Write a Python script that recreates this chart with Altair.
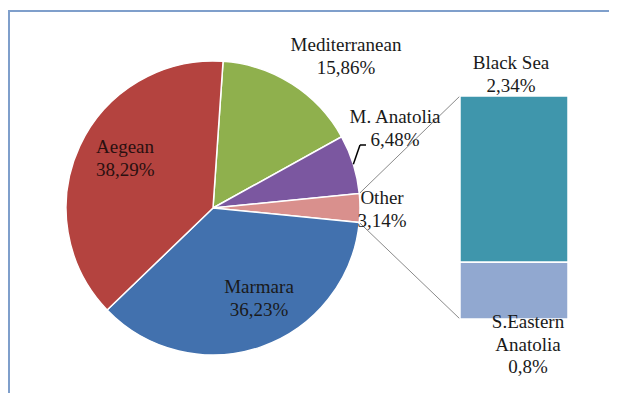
import math
import altair as alt
import pandas as pd

# ---- data ----
pie_names = ["Mediterranean", "M. Anatolia", "Other", "Marmara", "Aegean"]
pie_values = [15.86, 6.48, 3.14, 36.23, 38.29]
bar_names = ["Black Sea", "S.Eastern\nAnatolia"]
bar_values = [2.34, 0.8]

# ---- layout (page pixels) ----
OFF = 8  # page margin
W, H = 601, 385
CX, CY = 213 - OFF, 208 - OFF
R = 147
BAR_X0, BAR_X1 = 460 - OFF, 568 - OFF
BAR_TOP, BAR_BOT = 96 - OFF, 319 - OFF

colors = {
    "Mediterranean": "#8FB04D",
    "M. Anatolia": "#7B57A0",
    "Other": "#D9908D",
    "Marmara": "#4271AE",
    "Aegean": "#B4433F",
    "Black Sea": "#3F96AC",
    "S.Eastern\nAnatolia": "#91A8D0",
}
label_pos = {  # first-line centres, page px
    "Mediterranean": (346, 45),
    "M. Anatolia": (395, 117),
    "Other": (382, 198),
    "Marmara": (259, 287),
    "Black Sea": (511, 63),
    "S.Eastern\nAnatolia": (528, 322),
}
aegean_pos = (96, 147)

def fmt(v):
    return ("%g" % v).replace(".", ",") + "%"

total = sum(pie_values)
other_idx = pie_names.index("Other")
# Other slice centred at 3 o'clock
before = sum(pie_values[:other_idx]) + pie_values[other_idx] / 2
start = math.radians(90 - before / total * 360)

pie_df = pd.DataFrame({"name": pie_names, "value": pie_values,
                       "ord": list(range(len(pie_names)))})
dom = list(colors.keys())
rng = [colors[k] for k in dom]
color_scale = alt.Scale(domain=dom, range=rng)

pie = alt.Chart(pie_df).mark_arc(outerRadius=R, stroke="white", strokeWidth=1.5).encode(
    theta=alt.Theta("value:Q", stack=True,
                    scale=alt.Scale(domain=[0, total], range=[start, start + 2 * math.pi])),
    color=alt.Color("name:N", scale=color_scale, legend=None),
    order=alt.Order("ord:Q"),
    x=alt.value(CX), y=alt.value(CY),
)

bar_df = pd.DataFrame({"name": bar_names, "value": bar_values, "ord": [1, 0]})
bar_total = sum(bar_values)
bar = alt.Chart(bar_df).transform_stack(
    stack="value", groupby=[], as_=["v0", "v1"], sort=[alt.SortField("ord")]
).mark_bar(stroke="white", strokeWidth=1.5).encode(
    x=alt.value(BAR_X0), x2=alt.value(BAR_X1),
    y=alt.Y("v0:Q", axis=None,
            scale=alt.Scale(domain=[0, bar_total], range=[BAR_BOT, BAR_TOP])),
    y2="v1:Q",
    color=alt.Color("name:N", scale=color_scale, legend=None),
)

# connector lines from the Other slice edges to the bar corners
a_from = start + 2 * math.pi * sum(pie_values[:other_idx]) / total
a_to = a_from + 2 * math.pi * pie_values[other_idx] / total
def edge(a, r=R):
    return CX + r * math.sin(a), CY - r * math.cos(a)
p1 = edge(a_from); p2 = edge(a_to)
line_df = pd.DataFrame({"k": [0]})
conn1 = alt.Chart(line_df).mark_rule(color="#8a8a8a", strokeWidth=1).encode(
    x=alt.value(p1[0]), y=alt.value(p1[1]), x2=alt.value(BAR_X0), y2=alt.value(BAR_TOP))
conn2 = alt.Chart(line_df).mark_rule(color="#8a8a8a", strokeWidth=1).encode(
    x=alt.value(p2[0]), y=alt.value(p2[1]), x2=alt.value(BAR_X0), y2=alt.value(BAR_BOT))

# leader line for M. Anatolia
ma_idx = pie_names.index("M. Anatolia")
a_ma = start + 2 * math.pi * (sum(pie_values[:ma_idx]) + pie_values[ma_idx] / 2) / total
pm = edge(a_ma)
lead1 = alt.Chart(line_df).mark_rule(color="black", strokeWidth=1.5).encode(
    x=alt.value(pm[0]), y=alt.value(pm[1]), x2=alt.value(360 - OFF), y2=alt.value(145 - OFF))
lead2 = alt.Chart(line_df).mark_rule(color="black", strokeWidth=1.5).encode(
    x=alt.value(360 - OFF), y=alt.value(145 - OFF), x2=alt.value(366 - OFF), y2=alt.value(145 - OFF))

# labels
all_vals = dict(zip(pie_names, pie_values)) | dict(zip(bar_names, bar_values))
lab_rows = []
for k, (lx, ly) in label_pos.items():
    lab_rows.append({"txt": k + "\n" + fmt(all_vals[k]), "px": lx - OFF, "py": ly - OFF})
lab_df = pd.DataFrame(lab_rows)
font = "Liberation Serif"
labels = alt.Chart(lab_df).mark_text(
    font=font, fontSize=19, lineBreak="\n", lineHeight=22.5, color="#1a1a1a",
    align="center", baseline="middle").encode(
    x=alt.X("px:Q", scale=None), y=alt.Y("py:Q", scale=None), text="txt:N")

aeg_df = pd.DataFrame({"txt": ["Aegean\n" + fmt(all_vals["Aegean"])],
                       "px": [aegean_pos[0] - OFF], "py": [aegean_pos[1] - OFF]})
aeg = alt.Chart(aeg_df).mark_text(
    font=font, fontSize=19, lineBreak="\n", lineHeight=22.5, color="#2a1010",
    align="left", baseline="middle").encode(
    x=alt.X("px:Q", scale=None), y=alt.Y("py:Q", scale=None), text="txt:N")

frame = alt.Chart(line_df).mark_rect(fill=None, stroke="#7F9FCB", strokeWidth=2).encode(
    x=alt.value(9 - OFF), x2=alt.value(640), y=alt.value(11 - OFF), y2=alt.value(420))

chart = alt.layer(frame, conn1, conn2, pie, bar, lead1, lead2, labels, aeg).resolve_scale(
    y="independent", x="independent", theta="independent"
).properties(
    width=W, height=H, padding=0, autosize="none",
    background="white",
).configure_view(stroke=None)

chart.save("out.html", embed_options={"renderer": "svg", "actions": False})
